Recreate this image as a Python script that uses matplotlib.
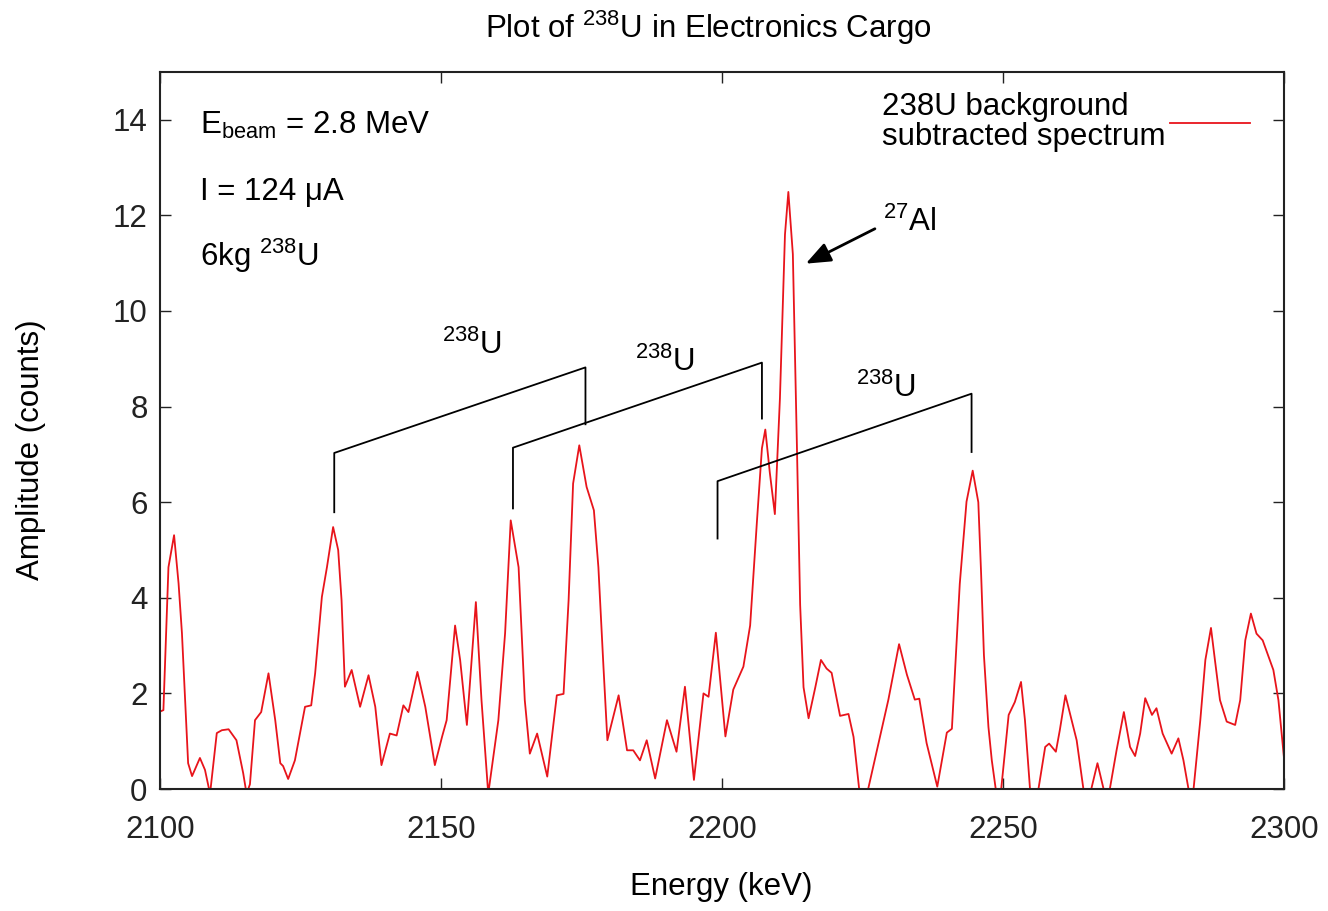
import matplotlib
matplotlib.use("Agg")
import matplotlib.pyplot as plt

plt.rcParams["font.family"] = ["Liberation Sans", "DejaVu Sans"]
plt.rcParams["mathtext.fontset"] = "custom"
plt.rcParams["mathtext.rm"] = "Liberation Sans"

# spectrum (keV, counts)
energy = [
    2100.0, 2100.6, 2101.5, 2102.5, 2103.3, 2103.9, 2105.0, 2105.7, 2107.1, 2108.0,
    2108.9, 2110.1, 2111.0, 2112.2, 2113.6, 2114.8, 2115.4, 2116.0, 2116.9, 2118.0,
    2119.3, 2120.5, 2121.4, 2121.9, 2122.8, 2124.0, 2125.8, 2126.9, 2127.6, 2128.8,
    2129.7, 2130.8, 2131.7, 2132.3, 2132.9, 2134.1, 2135.6, 2137.1, 2138.3, 2139.4,
    2140.9, 2142.1, 2143.3, 2144.2, 2145.8, 2147.2, 2148.9, 2150.2, 2151.0, 2152.5,
    2153.4, 2154.6, 2156.2, 2157.2, 2158.4, 2160.2, 2161.4, 2162.4, 2163.8, 2164.9,
    2165.8, 2167.1, 2168.9, 2170.6, 2171.8, 2172.7, 2173.5, 2174.6, 2175.9, 2177.2,
    2178.0, 2178.9, 2179.6, 2181.6, 2183.1, 2184.2, 2185.4, 2186.6, 2188.1, 2190.2,
    2191.9, 2193.4, 2195.0, 2196.7, 2197.6, 2198.9, 2200.6, 2202.0, 2203.8, 2205.0,
    2206.2, 2207.1, 2207.7, 2208.5, 2209.4, 2210.3, 2211.2, 2211.8, 2212.6, 2213.3,
    2213.9, 2214.5, 2215.4, 2216.6, 2217.6, 2218.6, 2219.5, 2221.0, 2222.5, 2223.4,
    2224.4, 2225.2, 2226.0, 2228.1, 2229.6, 2231.5, 2232.9, 2234.3, 2235.1, 2236.4,
    2238.3, 2240.0, 2240.9, 2242.3, 2243.5, 2244.6, 2245.6, 2246.1, 2246.6, 2247.4,
    2248.0, 2248.7, 2249.5, 2251.0, 2252.1, 2253.2, 2253.9, 2254.8, 2255.6, 2256.3,
    2257.5, 2258.2, 2259.4, 2260.1, 2261.1, 2262.2, 2263.1, 2264.3, 2265.0, 2265.7,
    2266.8, 2267.9, 2268.5, 2269.0, 2270.2, 2271.5, 2272.6, 2273.5, 2274.4, 2275.3,
    2276.5, 2277.3, 2278.4, 2280.0, 2281.2, 2282.1, 2283.0, 2283.5, 2283.9, 2285.1,
    2286.0, 2287.0, 2287.7, 2288.6, 2289.8, 2291.3, 2292.2, 2293.1, 2294.1, 2295.1,
    2296.2, 2298.1, 2299.0, 2300.0,
]
amplitude = [
    1.62, 1.65, 4.64, 5.31, 4.30, 3.26, 0.54, 0.27, 0.65, 0.40,
    -0.1, 1.17, 1.23, 1.25, 1.02, 0.33, -0.1, 0.10, 1.44, 1.61,
    2.42, 1.44, 0.54, 0.48, 0.21, 0.60, 1.72, 1.75, 2.42, 4.02,
    4.64, 5.48, 5.00, 3.95, 2.14, 2.49, 1.72, 2.38, 1.72, 0.50,
    1.16, 1.12, 1.75, 1.61, 2.45, 1.72, 0.50, 1.10, 1.44, 3.42,
    2.70, 1.34, 3.91, 1.86, -0.1, 1.44, 3.26, 5.62, 4.64, 1.86,
    0.74, 1.16, 0.26, 1.96, 1.99, 3.95, 6.39, 7.19, 6.32, 5.83,
    4.64, 2.56, 1.02, 1.96, 0.81, 0.81, 0.60, 1.02, 0.22, 1.44,
    0.78, 2.14, 0.19, 2.00, 1.93, 3.27, 1.10, 2.08, 2.56, 3.42,
    5.58, 7.13, 7.52, 6.62, 5.75, 8.17, 11.60, 12.49, 11.19, 7.31,
    3.85, 2.13, 1.48, 2.13, 2.70, 2.52, 2.43, 1.53, 1.57, 1.09,
    0.0, -0.4, 0.0, 1.09, 1.87, 3.03, 2.39, 1.87, 1.89, 0.96,
    0.05, 1.18, 1.26, 4.29, 6.01, 6.66, 6.00, 4.50, 2.80, 1.30,
    0.60, 0.0, -0.2, 1.55, 1.82, 2.24, 1.44, 0.0, -0.3, 0.0,
    0.88, 0.95, 0.78, 1.23, 1.96, 1.44, 1.02, 0.0, -0.3, 0.0,
    0.54, 0.0, -0.3, 0.0, 0.81, 1.61, 0.88, 0.69, 1.16, 1.90,
    1.55, 1.69, 1.16, 0.74, 1.06, 0.60, 0.0, -0.3, 0.0, 1.44,
    2.70, 3.37, 2.70, 1.86, 1.41, 1.34, 1.86, 3.11, 3.67, 3.25,
    3.11, 2.49, 1.86, 0.64,
]

# 238U line pairs: left/right energy, leg bottoms and tops
pair_left = [2131.0, 2162.8, 2199.2]
pair_right = [2175.7, 2207.1, 2244.4]
left_bottom = [5.79, 5.87, 5.24]
left_top = [7.03, 7.14, 6.44]
right_top = [8.82, 8.92, 8.27]
right_bottom = [7.63, 7.75, 7.05]
pair_label_x = [2155.5, 2189.9, 2229.2]
pair_label_y = [9.28, 8.92, 8.38]

red = "#e8141b"
fs = 22.5

fig = plt.figure(figsize=(13.28, 9.11), dpi=100)
ax = fig.add_axes([0.1205, 0.1339, 0.8464, 0.7871])

ax.plot(energy, amplitude, color=red, lw=1.3,
        label="238U background\nsubtracted spectrum")

for i in range(3):
    ax.plot([pair_left[i], pair_left[i], pair_right[i], pair_right[i]],
            [left_bottom[i], left_top[i], right_top[i], right_bottom[i]],
            color="black", lw=1.3)
    ax.text(pair_label_x[i], pair_label_y[i], r"$\mathregular{^{238}}$U",
            ha="center", va="center", fontsize=fs)

# 27Al arrow
ax.annotate("", xy=(2214.9, 10.99), xytext=(2227.2, 11.72),
            arrowprops=dict(arrowstyle="-|>,head_length=0.5,head_width=0.2",
                            color="black", lw=2.0, mutation_scale=30,
                            shrinkA=0, shrinkB=0))
ax.text(2228.6, 11.85, r"$\mathregular{^{27}}$Al", ha="left", va="center", fontsize=fs)

ax.text(2107.1, 13.71, r"$\mathregular{E_{beam}}$ = 2.8 MeV", va="baseline", fontsize=fs)
ax.text(2107.1, 12.32, "I = 124 μA", va="baseline", fontsize=fs)
ax.text(2107.1, 10.95, r"6kg $\mathregular{^{238}}$U", va="baseline", fontsize=fs)

ax.set_xlim(2100, 2300)
ax.set_ylim(0, 15)
ax.set_xticks(range(2100, 2301, 50))
ax.set_yticks(range(0, 15, 2))
ax.tick_params(direction="in", length=8, width=1, top=True, right=True,
               labelsize=fs, colors="#222222")
ax.tick_params(axis="x", pad=19)
ax.tick_params(axis="y", pad=9)
for s in ax.spines.values():
    s.set_linewidth(1.5)
    s.set_color("#222222")

ax.set_xlabel("Energy (keV)", fontsize=fs)
ax.set_ylabel("Amplitude (counts)", fontsize=fs)
ax.xaxis.set_label_coords(0.499, -0.116)
ax.yaxis.set_label_coords(-0.101, 0.473)

leg = ax.legend(loc="upper right", bbox_to_anchor=(0.981, 0.990), frameon=False,
                markerfirst=False, handlelength=2.56, handletextpad=0.16,
                fontsize=fs, borderaxespad=0.0)
for t in leg.get_texts():
    t.set_linespacing(1.03)

fig.text(0.5335, 1 - 28 / 911, r"Plot of $\mathregular{^{238}}$U in Electronics Cargo",
         ha="center", va="center", fontsize=fs)

fig.savefig("out.png", dpi=100)
